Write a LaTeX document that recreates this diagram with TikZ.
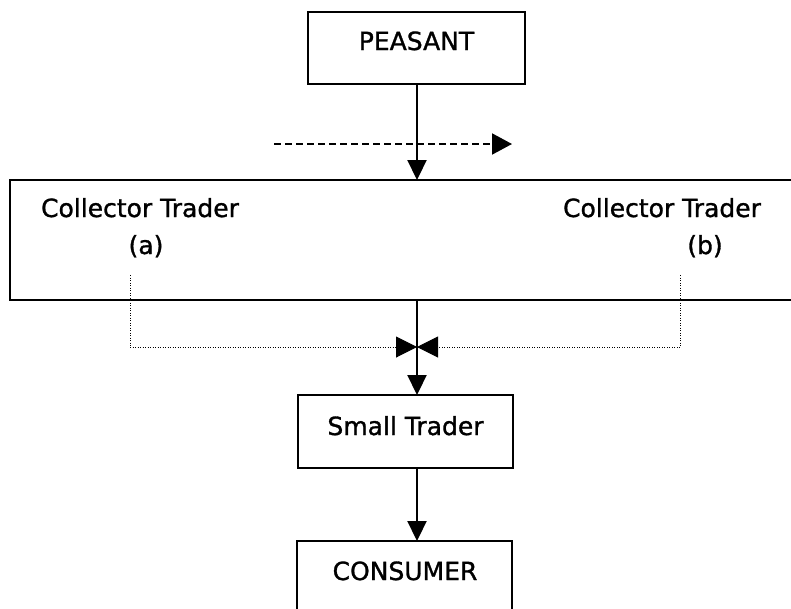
\documentclass[tikz,border=0pt]{standalone}
\usepackage{fontspec}
\setmainfont[FakeBold=1.2]{DejaVu Sans}
\usetikzlibrary{arrows.meta}
\begin{document}
\begin{tikzpicture}[x=1pt,y=-1pt,
  box/.style={draw,line width=2.2pt,inner sep=0pt,rectangle},
  lbl/.style={font=\fontsize{25}{30}\selectfont,inner sep=0pt,anchor=base},
  flow/.style={line width=2.2pt,-{Triangle[width=19pt,length=20pt]}},
  dashflow/.style={line width=2pt,dash pattern=on 7pt off 4pt,-{Triangle[width=21pt,length=20pt]}},
  dotflow/.style={line width=1pt,dash pattern=on 1pt off 1.5pt,-{Triangle[width=21pt,length=21pt]}},
  dotline/.style={line width=1pt,dash pattern=on 1pt off 1.5pt}]
\useasboundingbox (0,0) rectangle (791,608);
\fill[white] (0,0) rectangle (791,608);
\clip (0,0) rectangle (791,608);
% boxes
\node[box,minimum width=217pt,minimum height=72pt] (peasant) at (416.5,48) {};
\node[box,minimum width=795pt,minimum height=120pt] (collector) at (407.5,240) {};
\node[box,minimum width=215pt,minimum height=73pt] (small) at (405.5,431.5) {};
\node[box,minimum width=215pt,minimum height=100pt] (consumer) at (404.5,591) {};
% texts
\node[lbl] (tpeasant) at (416.5,50) {PEASANT};
\node[lbl] (tcola) at (140,217) {Collector Trader};
\node[lbl] (ta) at (146,254) {(a)};
\node[lbl] (tcolb) at (662,217) {Collector Trader};
\node[lbl] (tb) at (705,254) {(b)};
\node[lbl] (tsmall) at (405.5,435) {Small Trader};
\node[lbl] (tconsumer) at (405,580) {CONSUMER};
% connector points
\coordinate (pOut) at (417,84);
\coordinate (cIn) at (417,180);
\coordinate (cOut) at (417,300);
\coordinate (sIn) at (417,395);
\coordinate (sOut) at (417,468);
\coordinate (kIn) at (417,541);
\coordinate (dashA) at (274,144);
\coordinate (dashB) at (512,144);
\coordinate (aTop) at (130,275);
\coordinate (aCorner) at (130,347);
\coordinate (bTop) at (680,275);
\coordinate (bCorner) at (680,347);
\coordinate (meet) at (417,347);
% connectors
\draw[flow] (pOut) -- (cIn);
\draw[dashflow] (dashA) -- (dashB);
\draw[flow] (cOut) -- (sIn);
\draw[flow] (sOut) -- (kIn);
\draw[dotline] (aTop) -- (aCorner);
\draw[dotflow] (aCorner) -- (meet);
\draw[dotline] (bTop) -- (bCorner);
\draw[dotflow] (bCorner) -- (meet);
\end{tikzpicture}
\end{document}
